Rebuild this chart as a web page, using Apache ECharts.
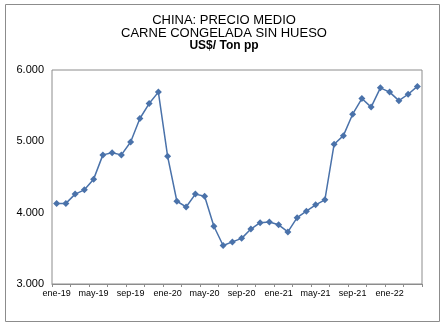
<!DOCTYPE html>
<html>
<head>
<meta charset="utf-8">
<script src="https://cdn.jsdelivr.net/npm/echarts@6/dist/echarts.min.js"></script>
<style>
  html, body { margin: 0; padding: 0; background: #fff; }
  #chart { width: 448px; height: 333px; }
</style>
</head>
<body>
<div id="chart"></div>
<script>
// Monthly average price, frozen boneless beef, China (US$/ton)
const months = [
  'ene-19','feb-19','mar-19','abr-19','may-19','jun-19','jul-19','ago-19','sep-19','oct-19','nov-19','dic-19',
  'ene-20','feb-20','mar-20','abr-20','may-20','jun-20','jul-20','ago-20','sep-20','oct-20','nov-20','dic-20',
  'ene-21','feb-21','mar-21','abr-21','may-21','jun-21','jul-21','ago-21','sep-21','oct-21','nov-21','dic-21',
  'ene-22','feb-22','mar-22','abr-22'
];
const prices = [
  4130, 4130, 4260, 4320, 4470, 4810, 4840, 4810, 4990, 5320, 5530, 5690,
  4790, 4160, 4080, 4260, 4230, 3810, 3540, 3590, 3640, 3770, 3860, 3870,
  3830, 3730, 3930, 4020, 4110, 4180, 4960, 5080, 5380, 5600, 5480, 5750,
  5690, 5570, 5660, 5770
];
const titleLines = ['CHINA: PRECIO MEDIO', 'CARNE CONGELADA SIN HUESO', 'US$/ Ton pp'];
const yTicks = { min: 3000, max: 6000, step: 1000 };

const chart = echarts.init(document.getElementById('chart'), null, { renderer: 'canvas' });

const fmtThousands = v => String(v).replace(/\B(?=(\d{3})+(?!\d))/g, '.');

chart.setOption({
  animation: false,
  backgroundColor: '#fff',
  graphic: [
    {
      type: 'rect',
      shape: { x: 5.5, y: 4.5, width: 434, height: 317 },
      style: { fill: 'none', stroke: '#8c8c8c', lineWidth: 1 },
      silent: true
    },
    {
      type: 'text',
      left: 'center',
      top: 14,
      style: {
        text: titleLines[0] + '\n' + titleLines[1],
        font: '13px "Liberation Sans", Arial, sans-serif',
        fill: '#000',
        textAlign: 'center',
        lineHeight: 12.7
      }
    },
    {
      type: 'text',
      left: 'center',
      top: 39.5,
      style: {
        text: titleLines[2],
        font: 'bold 12px "Liberation Sans", Arial, sans-serif',
        fill: '#000',
        textAlign: 'center'
      }
    }
  ],
  grid: {
    left: 52, top: 70, right: 26, bottom: 49,
    show: true, borderColor: '#8c8c8c', borderWidth: 1, backgroundColor: 'transparent'
  },
  xAxis: {
    type: 'category',
    data: months,
    boundaryGap: true,
    axisLine: { show: true, lineStyle: { color: '#8c8c8c' } },
    axisTick: { show: true, interval: 1, length: 3, lineStyle: { color: '#8c8c8c' } },
    axisLabel: {
      interval: 3,
      margin: 5,
      fontSize: 9,
      color: '#000',
      fontFamily: '"Liberation Sans", Arial, sans-serif'
    },
    splitLine: { show: false }
  },
  yAxis: {
    type: 'value',
    min: yTicks.min,
    max: yTicks.max,
    interval: yTicks.step,
    axisLine: { show: false },
    axisTick: { show: false },
    splitLine: { show: false },
    axisLabel: {
      formatter: fmtThousands,
      margin: 8,
      fontSize: 11,
      color: '#000',
      fontFamily: '"Liberation Sans", Arial, sans-serif'
    }
  },
  series: [{
    type: 'line',
    data: prices,
    symbol: 'diamond',
    symbolSize: 7,
    showAllSymbol: true,
    lineStyle: { color: '#4a72aa', width: 1.5 },
    itemStyle: { color: '#4a72aa' }
  }]
});
</script>
</body>
</html>
